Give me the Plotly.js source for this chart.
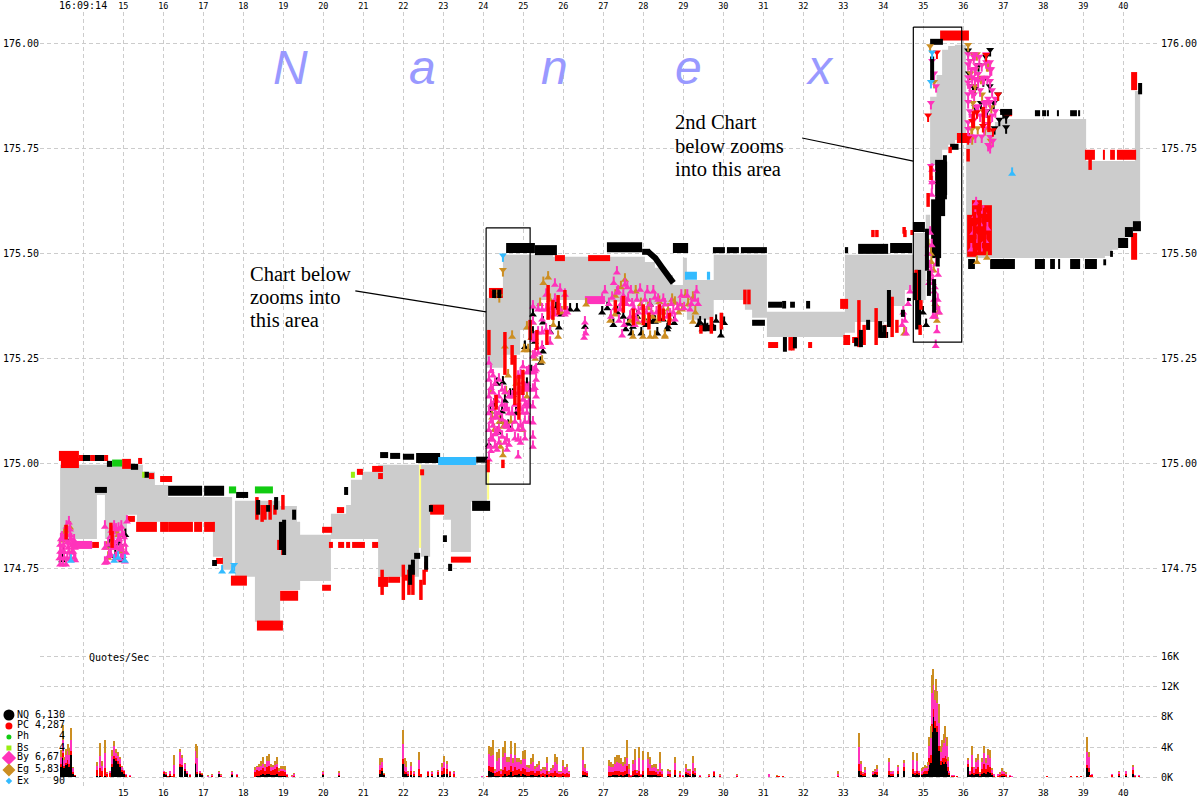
<!DOCTYPE html>
<html><head><meta charset="utf-8">
<script src="https://cdn.plot.ly/plotly-3.0.1.min.js"></script>
<style>html,body{margin:0;padding:0;background:#fff}#c{width:1200px;height:800px}</style>
</head><body><div id="c"></div>
<script>
// ---- inside-quote spread (seconds after 16:09, price)
const spreadT=[13.42,14.34,14.54,15.09,15.34,15.49,15.79,16.12,17.24,17.47,17.72,17.79,18.29,18.92,19.34,19.42,20.19,20.57,20.69,20.97,21.37,22.39,22.44,22.67,23.02,23.19,23.69,24.09,24.49,24.92,25.17,25.42,25.74,26.92,28.04,28.29,28.54,28.74,28.99,29.09,29.76,30.54,30.72,31.09,33.04,33.29,34.17,34.54,34.74,35.06,35.17,35.33,35.47,35.62,35.79,36.07,36.54,36.79,36.92,39.07,39.42,39.54,39.72,39.87,40.04,40.17,40.29,40.42];
const spreadAsk=[174.998,174.998,174.998,174.998,174.998,174.981,174.95,174.921,174.921,174.921,174.9,174.912,174.912,174.9,174.862,174.831,174.881,174.902,174.962,174.981,174.998,174.9,174.998,174.998,174.998,174.998,174.998,175.395,175.498,175.498,175.498,175.498,175.493,175.493,175.481,175.467,175.45,175.426,175.491,175.438,175.498,175.498,175.498,175.362,175.498,175.498,175.498,175.498,175.55,175.593,175.874,175.926,175.986,175.995,175.998,175.783,175.795,175.814,175.821,175.721,175.721,175.721,175.721,175.721,175.721,175.721,175.888,175.888];
const spreadBid=[174.821,174.926,174.821,174.879,174.862,174.862,174.862,174.862,174.779,174.748,174.9,174.731,174.624,174.7,174.7,174.721,174.821,174.821,174.821,174.821,174.731,174.9,174.779,174.898,174.867,174.79,174.91,175.229,175.26,175.319,175.367,175.39,175.39,175.386,175.379,175.379,175.379,175.379,175.379,175.343,175.39,175.367,175.348,175.302,175.312,175.338,175.376,175.414,175.39,175.545,175.712,175.724,175.748,175.76,175.771,175.49,175.49,175.49,175.49,175.49,175.49,175.495,175.51,175.526,175.54,175.557,175.569,175.569];

// ---- NQ (black) runs of quotes
const nqBlockT=[16.12,16.97,null,17.02,17.52,null,22.32,22.92,null,23.72,24.17,null,24.57,25.29,null,25.29,25.84,null,27.09,27.97,null,28.74,29.12,null,33.37,34.12,null,34.17,34.72,null,34.74,35.04,null,36.12,36.29,null,36.67,37.29,null,37.79,38.04,null,38.17,38.29,null,38.37,38.42,null,38.67,38.92,null,39.04,39.34,null,39.87,40.12,null,40.04,40.24,null,40.24,40.44,null,35.42,35.42,null,35.32,35.32,null,35.47,35.47];
const nqBlockP=[174.936,174.936,null,174.936,174.936,null,175.014,175.014,null,174.9,174.9,null,175.514,175.514,null,175.509,175.509,null,175.516,175.516,null,175.514,175.514,null,175.512,175.512,null,175.514,175.514,null,175.564,175.564,null,175.476,175.476,null,175.476,175.476,null,175.476,175.476,null,175.476,175.476,null,175.476,175.476,null,175.476,175.476,null,175.476,175.476,null,175.526,175.526,null,175.552,175.552,null,175.566,175.566,null,175.724,175.59,null,175.63,175.49,null,175.72,175.64];
const nqRunT=[13.99,14.17,null,14.29,14.52,null,14.59,14.72,null,14.29,14.59,null,15.19,15.37,null,15.52,15.64,null,17.82,18.12,null,17.22,17.34,null,21.42,21.62,null,21.67,21.92,null,21.99,22.27,null,23.82,24.12,null,28.12,28.3,28.45,28.6,28.75,null,27.97,28.17,null,29.74,30.04,null,30.09,30.39,null,30.44,31.09,null,33.04,33.12,null,31.12,31.47,null,30.72,31.04,null,37.79,37.92,null,37.97,38.07,null,38.09,38.14,null,38.34,38.39,null,38.67,38.84,null,38.87,38.92,null,36.92,37.22,null,29.42,29.82,null,33.92,34.12,null,35.17,35.49,null,35.67,35.88,null,39.5,39.57,null,39.67,39.74,null,22.27,22.42,null,34.87,34.87,null,31.67,31.79,null,33.42,33.5];
const nqRunP=[175.014,175.014,null,175.014,175.014,null,175,175,null,174.938,174.938,null,174.993,174.993,null,174.974,174.974,null,174.926,174.926,null,174.764,174.764,null,175.021,175.021,null,175.019,175.019,null,175.017,175.017,null,175.01,175.01,null,175.505,175.49,175.47,175.45,175.431,null,175.505,175.505,null,175.509,175.509,null,175.509,175.509,null,175.509,175.509,null,175.509,175.509,null,175.379,175.379,null,175.336,175.336,null,175.835,175.835,null,175.835,175.835,null,175.835,175.835,null,175.835,175.835,null,175.835,175.835,null,175.835,175.835,null,175.838,175.838,null,175.324,175.324,null,175.307,175.307,null,176.005,176.005,null,175.755,175.755,null,175.48,175.48,null,175.5,175.5,null,174.781,174.781,null,175.462,175.32,null,175.379,175.379,null,175.295,175.295];
const nqStemT=[18.94,18.94,null,19.02,19.02,null,18.37,18.37,null,18.62,18.62,null,18.82,18.82,null,19.27,19.27,null,22.17,22.17,null,22.24,22.24,null,22.57,22.57,null,20.57,20.57,null,23.04,23.04,null,23.17,23.17,null,22.69,22.69,null,35.27,35.27,null,35.09,35.09,null,35.54,35.54,null,35.14,35.14,null,33.44,33.44,null,33.62,33.62,null,34.14,34.14,null,34.49,34.49,null,34.79,34.79,null,34.64,34.64,null,35.22,35.22,null,35.36,35.36,null,24.27,24.27,null,24.4,24.4,null,31.54,31.54,null,31.79,31.79,null,31.52,31.52,null,32.12,32.12,null,40.42,40.42,null,33.32,33.32,null,33.92,33.92,null,34.02,34.02];
const nqStemP=[174.862,174.795,null,174.867,174.783,null,174.914,174.879,null,174.902,174.886,null,174.921,174.891,null,174.891,174.867,null,174.76,174.712,null,174.772,174.736,null,174.781,174.748,null,174.945,174.926,null,174.83,174.814,null,174.762,174.745,null,174.902,174.886,null,175.44,175.36,null,175.56,175.46,null,175.735,175.63,null,175.46,175.4,null,175.319,175.278,null,175.343,175.319,null,175.414,175.326,null,175.367,175.35,null,175.455,175.39,null,175.395,175.388,null,175.97,175.91,null,175.53,175.47,null,175.415,175.395,null,175.415,175.395,null,175.302,175.267,null,175.302,175.275,null,175.388,175.37,null,175.388,175.37,null,175.907,175.88,null,175.3,175.28,null,175.34,175.3,null,175.33,175.3];

// ---- PC (red) runs of quotes
const pcBlockT=[13.39,13.89,null,13.44,13.89,null,14.97,15.19,null,15.32,15.84,null,15.92,16.12,null,16.12,16.74,null,16.77,16.97,null,17.02,17.29,null,17.69,18.09,null,18.34,18.99,null,18.92,19.37,null,21.37,21.62,null,22.67,23.02,null,32.92,33.12,null,33,33.17,null,35.42,36.14,null,35.84,36.17,null,39.04,39.29,null,39.49,39.54,null,39.67,39.79,null,39.84,40.32,null,24.14,24.49,null,36.22,36.22,null,36.34,36.34,null,36.47,36.47,null,36.59,36.59];
const pcBlockP=[175.019,175.019,null,175.002,175.002,null,175,175,null,174.85,174.85,null,174.85,174.85,null,174.85,174.85,null,174.85,174.85,null,174.85,174.85,null,174.722,174.722,null,174.615,174.615,null,174.686,174.686,null,174.719,174.719,null,174.891,174.891,null,175.381,175.381,null,175.295,175.295,null,176.02,176.02,null,175.776,175.776,null,175.736,175.736,null,175.736,175.736,null,175.736,175.736,null,175.736,175.736,null,175.407,175.407,null,175.593,175.493,null,175.628,175.497,null,175.609,175.497,null,175.616,175.497];
const pcRunT=[13.89,14.02,null,14.17,14.29,null,14.52,14.62,null,15.37,15.47,null,15.64,15.77,null,15.92,16.22,null,15.09,15.29,null,14.22,14.39,null,17.32,17.49,null,19.97,20.22,null,19.97,20.19,null,20.34,20.52,null,20.57,20.67,null,20.72,21.04,null,21.22,21.37,null,20.14,20.24,null,20.37,20.52,null,20.84,20.99,null,21.22,21.49,null,21.37,21.49,null,23.19,23.69,null,21.62,21.92,null,21.97,22.22,null,25.79,26.04,null,26.62,27.17,null,31.12,31.37,null,36.99,37.22,null,22.42,22.52,null,40.27,40.27,null,40.27,40.27,null,33.22,33.37,null,32.12,32.22];
const pcRunP=[175.014,175.014,null,175.014,175.014,null,175.014,175.014,null,175.007,175.007,null,174.971,174.971,null,174.964,174.964,null,174.869,174.869,null,174.807,174.807,null,174.769,174.769,null,174.843,174.843,null,174.705,174.705,null,174.89,174.89,null,174.807,174.807,null,174.807,174.807,null,174.807,174.807,null,174.807,174.807,null,174.807,174.807,null,174.981,174.981,null,174.988,174.988,null,174.971,174.971,null,174.772,174.772,null,174.724,174.724,null,174.729,174.729,null,175.49,175.49,null,175.49,175.49,null,175.283,175.283,null,175.835,175.835,null,174.98,174.98,null,175.933,175.89,null,175.55,175.486,null,175.295,175.295,null,175.283,175.283];
const pcStemT=[18.34,18.34,null,18.47,18.47,null,18.54,18.54,null,18.67,18.67,null,18.79,18.79,null,18.99,18.99,null,18.89,18.89,null,18.99,18.99,null,22,22,null,22.14,22.14,null,22.24,22.24,null,22.44,22.44,null,22.52,22.52,null,21.47,21.47,null,22.57,22.57,null,24.14,24.14,null,24.54,24.54,null,24.72,24.72,null,24.79,24.79,null,24.89,24.89,null,24.99,24.99,null,24.32,24.32,null,24.49,24.49,null,25.34,25.34,null,25.17,25.17,null,25.62,25.62,null,25.74,25.74,null,25.87,25.87,null,26.04,26.04,null,25.59,25.59,null,24.12,24.12,null,36.28,36.28,null,36.4,36.4,null,36.53,36.53,null,33.39,33.39,null,33.52,33.52,null,33.82,33.82,null,34.22,34.22,null,34.04,34.04,null,34.34,34.34,null,34.82,34.82,null,34.94,34.94,null,34.92,34.92,null,34.52,34.52,null,34.72,34.72,null,35.12,35.12,null,35.19,35.19,null,35.67,35.67,null,39.17,39.17,null,36.12,36.12,null,13.57,13.57,null,14.69,14.69,null,14.72,14.72,null,27.3,27.3,null,27.5,27.5,null,27.75,27.75,null,28,28,null,28.14,28.14,null,28.4,28.4,null,28.5,28.5,null,28.65,28.65,null,29.44,29.44,null,29.7,29.7,null,29.95,29.95,null,36.5,36.5,null,36.25,36.25,null,36.64,36.64,null,31.67,31.67,null,31.74,31.74,null,30.54,30.54,null,30.64,30.64,null,33.74,33.74,null,33.84,33.84,null,34.54,34.54];
const pcStemP=[174.921,174.867,null,174.902,174.862,null,174.902,174.867,null,174.914,174.867,null,174.902,174.879,null,174.926,174.891,null,174.819,174.795,null,174.819,174.783,null,174.76,174.676,null,174.748,174.688,null,174.748,174.688,null,174.724,174.676,null,174.748,174.712,null,174.748,174.688,null,174.767,174.743,null,175.319,175.259,null,175.314,175.212,null,175.283,175.236,null,175.259,175.14,null,175.212,175.105,null,175.224,175.164,null,175.164,175.129,null,175.01,174.99,null,175.319,175.271,null,175.343,175.295,null,175.426,175.343,null,175.39,175.343,null,175.402,175.355,null,175.414,175.367,null,175.319,175.283,null,175.01,174.98,null,175.6,175.5,null,175.62,175.5,null,175.61,175.5,null,175.39,175.278,null,175.331,175.283,null,175.371,175.283,null,175.398,175.302,null,175.331,175.3,null,175.343,175.312,null,175.462,175.39,null,175.39,175.367,null,175.331,175.307,null,175.564,175.548,null,175.557,175.545,null,175.645,175.612,null,175.71,175.676,null,175.755,175.74,null,175.74,175.7,null,175.75,175.72,null,174.855,174.82,null,174.86,174.83,null,174.84,174.8,null,175.39,175.36,null,175.4,175.36,null,175.37,175.33,null,175.38,175.33,null,175.36,175.32,null,175.38,175.34,null,175.37,175.34,null,175.36,175.33,null,175.33,175.31,null,175.35,175.31,null,175.36,175.32,null,175.85,175.8,null,175.84,175.8,null,175.83,175.79,null,175.302,175.27,null,175.302,175.27,null,175.415,175.38,null,175.415,175.38,null,175.557,175.54,null,175.557,175.54,null,175.557,175.54];

// ---- other exchanges, runs
const byRunT=[13.74,14.22,null,26.54,27.04];
const byRunP=[174.807,174.807,null,175.39,175.39];
const phRunT=[14.72,14.97,null,17.64,17.82,null,18.29,18.74];
const phRunP=[175.002,175.002,null,174.938,174.938,null,174.938,174.938];
const exRunT=[22.87,23.82,null,29.04,29.34,null,29.59,29.67];
const exRunP=[175.007,175.007,null,175.448,175.448,null,175.448,175.448];
const bsRunT=[15.47,15.53,null,20.69,20.79];
const bsRunP=[174.974,174.974,null,174.974,174.974];
const yellowT=[22.42,22.42,null,24.12,24.12];
const yellowP=[174.998,174.8,null,174.998,174.915];

// ---- single quotes: By (pink)
const byUpT=[13.42,13.49,13.57,13.67,13.77,13.42,13.52,13.62,13.72,13.47,13.57,13.67,13.77,13.42,13.59,13.67,13.52,13.72,14.54,14.54,14.54,14.62,14.67,14.74,14.82,14.87,14.97,15.04,15.07,15.04,14.92,14.79,14.69,14.84,14.94,15.09,
13.44,13.47,13.5,13.54,13.6,13.64,13.66,13.7,13.75,13.8,13.79,13.4,13.44,13.58,13.64,14.6,14.64,14.72,14.76,14.8,14.85,14.9,14.95,15,15.02,14.7,14.77,14.88,14.95,
24.14,24.14,24.14,24.14,24.14,24.14,24.14,24.24,24.24,24.24,24.24,24.24,24.34,24.34,24.34,24.34,24.47,24.47,24.47,24.47,24.59,24.59,24.59,24.59,24.72,24.72,24.72,24.87,24.87,24.87,24.87,24.87,24.87,24.99,24.99,24.99,24.99,24.99,25.09,25.09,25.09,25.09,25.24,25.24,25.24,25.24,25.24,25.24,25.24,25.24,25.24,25.24,25.32,25.32,25.32,25.37,25.37,25.37,25.47,25.47,25.47,25.47,25.57,25.57,25.57,25.67,25.67,25.67,25.79,25.79,25.79,25.92,25.92,26.04,26.04,26.54,
24.19,24.19,24.19,24.19,24.19,24.19,24.29,24.29,24.29,24.29,24.29,24.39,24.39,24.39,24.39,24.39,24.54,24.54,24.54,24.54,24.64,24.64,24.64,24.64,24.79,24.79,24.79,24.93,24.93,24.93,24.93,24.93,25.04,25.04,25.04,25.04,25.14,25.14,25.14,25.14,25.29,25.29,25.29,25.29,
27.22,27.34,27.34,27.47,27.42,27.54,27.62,27.72,27.82,27.92,28.04,28.17,28.29,28.42,28.54,28.67,28.79,28.92,29.17,29.29,
27.14,27.19,27.26,27.29,27.37,27.39,27.44,27.5,27.52,27.58,27.6,27.67,27.69,27.76,27.79,27.84,27.88,27.96,28,28.08,28.1,28.2,28.25,28.33,28.37,28.46,28.5,28.6,28.7,28.75,28.85,28.95,29.02,29.1,29.2,29.33,29.37,25.7,26.1,26.56,26.52,27.04,26.97,
35.32,35.37,35.29,35.27,35.24,35.34,35.19,35.17,34.54,34.57,35.31,35.12,35.15,35.2,35.24,35.27,35.21,35.17,35.14,35.3,35.33,35.36,35.4,34.47,34.5,34.62,34.67,35.22,35.22,35.21,
36.25,36.3,36.36,36.42,36.5,36.55,36.2,36.44,36.6,36.32];
const byUpP=[174.76,174.76,174.76,174.772,174.776,174.79,174.79,174.8,174.805,174.824,174.833,174.83,174.817,174.807,174.812,174.843,174.776,174.788,174.764,174.8,174.85,174.807,174.826,174.836,174.843,174.819,174.831,174.807,174.788,174.767,174.795,174.8,174.783,174.776,174.772,174.862,
174.775,174.79,174.805,174.82,174.775,174.79,174.81,174.82,174.79,174.77,174.8,174.775,174.82,174.85,174.86,174.765,174.78,174.8,174.815,174.775,174.8,174.82,174.8,174.78,174.825,174.84,174.85,174.845,174.85,
175.24,175.2,175.16,175.12,175.08,175.04,175.01,175.21,175.17,175.13,175.09,175.057,175.15,175.11,175.074,175.033,175.176,175.14,175.105,175.064,175.129,175.088,175.057,175.033,175.16,175.12,175.081,175.207,175.169,175.129,175.081,175.057,175.017,175.231,175.193,175.152,175.121,175.081,175.217,175.176,175.136,175.121,175.374,175.336,175.295,175.255,175.217,175.176,175.136,175.098,175.064,175.04,175.224,175.2,175.16,175.367,175.312,175.264,175.367,175.343,175.312,175.278,175.402,175.367,175.319,175.35,175.312,175.288,175.426,175.39,175.355,175.414,175.367,175.402,175.355,175.336,
175.22,175.18,175.14,175.1,175.06,175.03,175.19,175.15,175.11,175.07,175.04,175.2,175.16,175.12,175.08,175.05,175.17,175.13,175.09,175.05,175.16,175.12,175.08,175.045,175.14,175.1,175.06,175.21,175.17,175.13,175.09,175.05,175.18,175.14,175.1,175.06,175.22,175.18,175.14,175.1,175.3,175.26,175.22,175.18,
175.395,175.455,175.407,175.305,175.367,175.426,175.39,175.379,175.343,175.414,175.39,175.379,175.395,175.367,175.379,175.355,175.343,175.379,175.367,175.39,
175.38,175.35,175.43,175.37,175.41,175.34,175.38,175.4,175.33,175.38,175.42,175.35,175.41,175.37,175.33,175.39,175.36,175.37,175.34,175.36,175.41,175.36,175.41,175.36,175.39,175.36,175.39,175.35,175.38,175.36,175.37,175.4,175.37,175.4,175.38,175.41,175.38,175.37,175.36,175.31,175.3,175.41,175.39,
175.475,175.45,175.42,175.39,175.35,175.315,175.46,175.44,175.34,175.31,175.28,175.5,175.47,175.45,175.43,175.41,175.52,175.55,175.43,175.35,175.37,175.39,175.36,175.33,175.36,175.38,175.41,175.7,175.67,175.64,
175.55,175.59,175.53,175.57,175.6,175.53,175.51,175.51,175.56,175.62];
const byDownT=[35.22,35.27,35.32,35.19,36.12,36.12,36.12,36.12,36.12,36.12,36.12,36.12,36.22,36.22,36.22,36.29,36.29,36.29,36.37,36.37,36.37,36.49,36.57,36.57,36.57,36.57,36.67,36.67,36.67,36.67,36.67,36.67,35.19,35.22,
36.16,36.16,36.16,36.2,36.26,36.27,36.27,36.32,36.33,36.4,36.42,36.42,36.46,36.52,36.52,36.52,36.6,36.62,36.62,36.7,36.72,36.72,36.74,36.46,36.3,36.18,36.8,36.8,36.62];
const byDownP=[175.96,175.93,175.9,175.86,175.976,175.952,175.921,175.909,175.881,175.862,175.814,175.798,175.921,175.886,175.829,175.976,175.94,175.917,175.929,175.912,175.852,175.917,175.976,175.957,175.862,175.84,175.957,175.94,175.912,175.862,175.779,175.755,175.71,175.67,
175.96,175.9,175.84,175.94,175.97,175.88,175.82,175.95,175.85,175.97,175.89,175.83,175.95,175.92,175.86,175.8,175.92,175.87,175.81,175.94,175.89,175.83,175.77,175.78,175.78,175.78,175.87,175.84,175.76];

// ---- single quotes: Eg (gold)
const egUpT=[13.47,13.54,13.67,14.57,14.62,14.79,14.92,24.22,24.49,24.49,24.72,24.54,25.09,25.09,25.24,25.47,25.62,25.87,26.57,27.29,27.54,27.74,27.87,27.99,28.29,28.54,28.62,28.17,28.54,28.67,28.79,28.97,29.12,29.24,29.24,35.34,35.19,36.34,36.59,36.36,
24.2,24.27,24.4,24.43,24.57,24.62,24.69,24.82,24.97,25.02,25.12,25.2,25.3,25.42,25.5,25.67,25.75,25.96,27.17,27.3,27.44,27.57,27.67,27.81,27.94,28.04,28.12,28.23,28.36,28.4,28.5,28.72,28.88,29.05,29.3,13.52,13.6,13.72,14.7,14.87,14.99,35.2,35.26,35.3,35.13,35.37,34.52];
const egUpP=[174.817,174.838,174.848,174.8,174.776,174.838,174.79,175.11,175.02,175.088,175.302,175.279,175.324,175.16,175.336,175.243,175.443,175.302,175.379,175.355,175.438,175.302,175.336,175.302,175.302,175.302,175.367,175.302,175.305,175.343,175.383,175.367,175.379,175.395,175.338,175.34,175.5,175.48,175.49,175.53,
175.17,175.08,175.1,175.04,175.17,175.21,175.1,175.19,175.08,175.27,175.27,175.3,175.25,175.38,175.43,175.39,175.33,175.36,175.34,175.4,175.42,175.38,175.34,175.41,175.38,175.34,175.37,175.35,175.34,175.385,175.36,175.39,175.36,175.4,175.36,174.83,174.84,174.79,174.81,174.83,174.79,175.48,175.46,175.38,175.52,175.36,175.31];
const egDownT=[24.49,36.12,36.24,36.34,36.29,36.22,36.47,36.54,36.59,35.17,35.27,36.22,36.18,36.24,36.3,36.44,36.5,36.62,36.7,36.68,36.2,36.36,24.3,24.4];
const egDownP=[175.462,175.998,175.976,175.976,175.9,175.798,175.88,175.798,175.95,175.995,175.91,175.776,175.93,175.86,175.94,175.92,175.84,175.95,175.85,175.77,175.8,175.8,175.41,175.4];

// ---- single quotes: NQ, PC, Ex
const nqUpT=[24.14,24.17,24.47,24.37,24.49,24.67,24.74,25.04,25.24,25.24,25.49,25.67,25.49,25.89,25.82,25.94,26.17,26.34,26.54,27.62,27.74,28.17,28.17,28.29,28.62,28.49,29.42,29.54,29.72,29.94,34.99,35.07,
24.27,24.34,24.44,24.54,24.62,24.82,24.92,25.09,25.14,25.2,25.29,25.43,13.5,13.57,13.47,14.67,14.8,14.9,14.97,15.05,26.97,27.1,27.25,27.35,27.5,27.56,27.7,27.85,27.95,28.07,28.25,28.35,28.6,28.77,29.38,29.48,29.6,29.82,30.02];
const nqUpP=[175.045,175.124,175.124,175.074,175.193,175.164,175.164,175.278,175.355,175.312,175.336,175.314,175.267,175.324,175.371,175.355,175.367,175.367,175.326,175.333,175.326,175.379,175.338,175.338,175.326,175.343,175.336,175.33,175.33,175.305,175.36,175.33,
175.14,175.19,175.1,175.15,175.09,175.12,175.17,175.19,175.14,175.22,175.29,175.24,174.79,174.82,174.77,174.805,174.78,174.81,174.77,174.83,175.36,175.37,175.33,175.36,175.35,175.32,175.31,175.35,175.31,175.33,175.34,175.31,175.32,175.335,175.33,175.32,175.32,175.34,175.335];
const nqDownT=[36.12,36.5,36.59,36.67,36.29,36.87,37,37.07,37.07,36.14,36.24,36.38,36.3,36.44,36.56,36.66,36.76,36.78,36.9];
const nqDownP=[175.985,175.914,175.84,175.986,175.893,175.88,175.838,175.826,175.802,175.93,175.9,175.95,175.85,175.86,175.97,175.9,175.86,175.8,175.82];
const pcDownT=[36.57,36.87,36.34,36.49,36.74,36.12,36.22,35.34,35.12];
const pcDownP=[175.974,175.88,175.838,175.805,175.795,175.776,175.817,175.98,175.83];
const exUpT=[13.69,14.77,14.87,15.04,17.47,17.72,37.22];
const exUpP=[174.769,174.769,174.776,174.769,174.743,174.743,175.69];
const exDownT=[17.77,24.49,35.19,35.22];
const exDownP=[174.76,175.497,175.91,175.98];

// ---- quotes per second (thousands)
const volT=[13.44,13.48,13.52,13.57,13.61,13.65,13.69,13.74,13.8,14.05,14.34,14.42,14.47,14.54,14.59,14.67,14.72,14.77,14.82,14.87,14.92,14.97,15.02,15.07,15.17,15.3,15.45,15.6,15.7,16.02,16.07,16.12,16.17,16.22,16.27,16.42,16.47,16.54,16.59,16.67,16.82,16.85,16.92,16.97,17.12,17.22,17.38,17.43,17.72,17.84,17.95,18.29,18.34,18.39,18.44,18.49,18.54,18.59,18.64,18.69,18.74,18.79,18.84,18.89,18.94,18.99,19.04,19.09,19.22,19.27,19.99,20.39,21.42,21.47,21.52,21.99,22.03,22.07,22.11,22.2,22.27,22.39,22.45,22.62,22.72,22.87,22.97,23.02,23.09,23.17,23.27,23.97,24.1,
24.14,24.19,24.24,24.29,24.34,24.39,24.44,24.49,24.54,24.59,24.64,24.69,24.74,24.79,24.84,24.89,24.94,24.99,25.04,25.09,25.14,25.19,25.24,25.29,25.34,25.39,25.44,25.49,25.54,25.59,25.64,25.69,25.74,25.79,25.84,25.89,25.94,25.99,26.04,26.09,26.14,26.2,26.49,26.54,26.59,
27.13,27.18,27.23,27.28,27.33,27.38,27.43,27.48,27.53,27.58,27.63,27.68,27.73,27.78,27.83,27.88,27.93,27.98,28.12,28.17,28.22,28.27,28.32,28.37,28.42,28.47,28.55,28.62,28.67,28.79,28.92,29,29.07,29.12,29.17,29.25,29.29,29.42,29.63,29.77,29.92,30.35,31.13,31.33,31.4,31.5,32.87,33.4,33.44,33.5,33.54,33.75,33.8,33.85,34.15,34.2,34.25,34.37,34.52,34.75,34.79,34.85,34.9,
34.96,35,35.04,35.08,35.12,35.15,35.19,35.22,35.25,35.28,35.32,35.35,35.38,35.4,35.43,35.47,35.51,35.54,35.58,35.61,35.65,35.71,35.76,35.83,36.11,36.17,36.22,36.27,36.32,36.37,36.42,36.47,36.52,36.57,36.62,36.67,36.72,36.77,36.87,36.92,36.97,37.02,37.07,37.17,37.21,38,38.1,38.35,38.7,38.85,38.95,39.1,39.13,39.17,39.21,39.5,39.72,39.9,40.07,40.25,40.29,40.4];
const volNQ=[1.4,2.6,1.2,1.6,1.8,1.4,3,.4,.2,0,.2,.2,.1,.2,.1,.1,1.4,2.4,2.1,1.8,1.4,.7,.5,.1,0,0,0,0,0,.5,.3,.1,.2,.1,.1,1.4,1.3,.9,.4,.1,1.8,.5,.4,.3,0,.1,.4,.1,.3,.1,0,.1,.2,.2,.3,.4,.3,.4,.5,.3,.3,.3,.4,.2,.2,.2,.2,.1,0,.1,.3,.2,.4,.8,.3,1.8,.5,.4,.2,.3,.2,.2,.1,.2,.2,.3,.3,.4,.4,.2,.1,0,0,
.8,.7,.6,.2,.2,.2,.1,.2,.4,.2,.3,.7,.2,.3,.3,.4,.2,.4,.3,.2,.2,.3,.3,.2,.2,.3,.1,.2,.1,.3,.1,.2,.1,.2,.1,.1,.1,.2,.1,.1,.1,0,.3,.3,.2,
.2,.2,.3,.3,.3,.2,.3,.2,.3,.5,.1,.1,.2,.3,.3,.2,.1,.3,.3,.3,.3,.3,.3,.2,.2,.1,0,.2,.1,.3,.1,.1,.4,.3,.2,.4,.3,0,0,.2,.1,.1,0,.1,0,0,.1,.9,.3,.2,.2,.3,.4,.3,.3,.2,.2,.5,.9,.5,.3,.4,.3,
.3,.4,.5,.5,.8,1.6,1.9,6,8,6.5,7.6,6,4.6,3.5,1.6,2,1.8,2,1.8,.9,.3,.1,.1,.1,1.3,.3,.5,.3,.4,.5,.2,.4,.6,.4,.7,.6,.3,.1,.1,.1,.2,.2,.1,.1,0,0,.1,0,.1,.1,.1,1.2,.7,.1,.1,.1,.1,.2,.2,.4,.1,.1];
const volPC=[.3,.6,.3,.3,.5,.4,.5,.3,.1,.1,.8,1,.8,1,.3,.5,.3,.4,.4,.3,.4,.3,.3,.2,.2,.1,.1,.1,.1,.2,.2,.1,.3,.1,.3,.3,.3,.2,.2,.2,.1,.2,.2,.1,.1,.1,.1,.1,.2,.2,.1,.6,.8,.7,.7,.8,.6,1,1,.6,.7,.8,.9,.5,.6,.6,.5,.2,.1,.1,.1,.1,.6,.4,.1,.6,.4,.3,.2,.6,.3,.9,.3,.5,.3,.4,.6,.8,.7,.5,.4,.1,.2,
.7,.6,.7,.4,.5,.7,.4,.8,1,.7,.7,.8,.6,1,.7,.7,.7,.8,.8,.5,.5,.6,.6,.4,.6,.6,.4,.4,.4,.6,.3,.4,.5,.7,.5,.3,.3,.4,.4,.5,.3,.1,.5,.4,.4,
.5,.5,.4,.5,.6,.6,.4,.5,.6,1,.4,.1,.6,.7,.3,.6,.2,.5,.9,.5,.5,.5,.4,.3,.5,.3,.1,.3,.3,.7,.2,.1,.3,.3,.3,.5,.3,.2,.2,.5,.1,.1,.1,.1,.2,.2,.1,.9,.6,.2,.4,.2,.3,.4,.6,.2,.3,.4,.4,.6,.3,.5,.3,
.2,.3,.3,.3,.3,.9,1,1,1,.9,.8,.8,.6,.7,.5,.6,.7,.8,.6,.5,.3,.1,.1,.1,.5,.2,.9,.3,.7,.8,.2,.7,1.1,.7,.9,.8,.3,.1,.1,.2,.3,.2,.2,.1,.1,.1,.1,.1,.1,.1,.1,.4,.5,.2,.2,0,.2,.3,.3,.6,.1,.1];
const volBy=[1,1.7,.8,1,1.2,1.2,1.5,.5,0,0,.5,1.6,.6,2,.2,.2,1.1,1.4,.7,.7,.6,.3,.2,.1,.1,0,0,0,0,.1,.1,0,.3,0,1.2,1.6,1,.6,.2,.1,1.6,1.9,.2,.1,.1,.1,.2,.1,.2,.1,0,.3,.3,.4,.5,.6,.4,.7,.7,.4,.3,.5,.5,.2,.3,.3,.3,.1,.1,.2,.3,.3,.6,.8,.1,2,.8,.6,.3,.6,.2,1.2,.1,.2,.2,.2,.5,.8,.6,.2,.2,.1,0,
1.6,1.5,1.7,.3,1.4,1.6,.4,1.7,1.8,1.1,1,1.6,1.1,1.6,1,.9,.9,1.2,1.3,.6,.5,.9,1.1,.5,.6,.7,.4,.5,.5,1,.3,.4,.6,1.1,1.1,.3,.3,.9,.6,.7,.3,0,1.5,.5,.3,
.8,.7,.6,1,1.1,1.1,1,.8,.9,1,.6,.1,.9,1.3,.2,1.7,.1,1.5,1.2,1,.4,.5,.5,.3,1.2,.4,0,.3,.3,.9,.3,.1,.5,.3,.3,1,.3,.1,.1,.2,.1,.1,.3,0,0,0,.3,2.2,.8,.2,.4,.2,.2,.4,1.1,.3,.3,.4,.6,1.2,.2,1.2,.2,
.4,.4,.4,.4,.5,1.6,2.3,4.2,3.2,2.8,3.2,3,2.2,3,1.3,1.4,2,2.4,1.8,.8,.2,.1,.1,0,.5,.3,1.6,.6,.9,1,.2,.9,1.5,.8,1.3,1.2,.4,.2,.2,.2,.3,.3,.2,.1,.1,0,0,0,0,0,0,1.7,1.5,0,.1,0,.1,.2,.3,.3,.1,.1];
const volEg=[.9,2,.4,.9,.9,.9,1.5,.2,0,0,.5,1.8,.7,1.8,.1,.1,.8,.6,.5,.5,.3,.2,0,0,0,0,0,0,0,.1,.1,0,.1,0,1.3,.4,.3,.2,.1,0,.9,1.6,.1,.1,.1,.1,.2,.1,.2,0,0,.3,.2,.5,.6,.9,.4,.7,.9,.4,.3,.6,.9,.3,.4,.4,.5,.1,.1,.2,.2,.3,.9,.5,.1,1.8,.9,.9,.1,.5,.1,1,0,0,.2,.1,.5,.8,.5,0,.1,0,0,
1.1,1.2,1.9,.2,1.3,1.2,.2,1.3,1.6,.7,.7,1.7,.6,1.7,.6,.6,.5,1.1,1.2,.3,.4,.7,1.1,.4,.4,.6,.2,.3,.3,.8,.2,.2,.4,1.1,1,.1,.1,.8,.3,.4,.1,0,1.7,.5,0,
.75,.6,.5,.9,1,1,.8,.5,.9,2.4,.7,0,.6,1.4,.2,1.5,.1,1.2,1,.9,.4,.5,.6,.3,1.5,.3,0,.3,.3,.8,.3,0,.5,.2,.3,.9,.3,0,.1,0,.1,.1,0,.1,0,0,.3,1.9,.4,.1,.3,.2,.2,.5,.5,.2,.1,.3,.4,1.1,.1,1.1,.1,
.3,.3,.4,.3,.4,1.2,1.6,2.4,2.2,1.4,1.4,1.6,1.2,2.5,.8,.9,1.2,1.6,1.1,.5,.1,0,0,0,.2,.1,1.1,.2,.6,.8,.1,.6,1,.6,.9,1,.2,.1,.1,.2,.4,.2,.2,0,0,0,0,0,0,0,0,2,.6,0,0,0,.1,.1,.1,.3,0,0];

// ---- labels
const priceTicks=[174.75,175,175.25,175.5,175.75,176];
const volTicks=[0,4,8,12,16];
const volLabels=['0K','4K','8K','12K','16K'];
const secondTicks=[14,15,16,17,18,19,20,21,22,23,24,25,26,27,28,29,30,31,32,33,34,35,36,37,38,39,40];
const legendLabels=['NQ 6,130','PC 4,287','Ph\u00a0\u00a0\u00a0\u00a0\u00a04','Bs\u00a0\u00a0\u00a0\u00a0\u00a04','By 6,67','Eg 5,83','Ex\u00a0\u00a0\u00a0\u00a090'];
const legendColors=['#000000','#ff0000','#11cc11','#99ee11','#ff33bb','#cc8e22','#33bbff'];
const legendSymbols=['circle','circle','circle','square','diamond','diamond','diamond'];
const legendSizes=[11,7,5,5,11,10,5];
const legendLevels=[8.25,6.8,5.34,3.88,2.56,.97,-.49];
const legendMarkT=[12.14,12.14,12.14,12.14,12.14,12.14,12.14];
const legendTextT=[12.34,12.34,12.34,12.34,12.34,12.34,12.34];
const nanexLetters=['N','a','n','e','x'];
const nanexT=[19.17,22.47,25.79,29.12,32.42];
const note1Lines=['Chart below','zooms into','this area'];
const note1P=[175.452,175.398,175.343];
const note2Lines=['2nd Chart','below zooms','into this area'];
const note2P=[175.814,175.757,175.702];
// boxes and callout lines
const calloutT=[24.07,25.17,25.17,24.07,24.07,null,34.75,35.96,35.96,34.75,34.75,null,20.8,24.07,null,31.97,34.75];
const calloutP=[175.562,175.562,174.952,174.952,175.562,null,176.04,176.04,175.29,175.29,176.04,null,175.412,175.362,null,175.776,175.721];

const BLACK='#000000',RED='#ff0000',PINK='#ff33bb',GOLD='#cc8e22',BLUE='#33bbff',GREEN='#11cc11',LIME='#99ee11';
function run(x,y,c,w){return {type:'scatter',mode:'lines',x,y,connectgaps:false,line:{color:c,width:w},hoverinfo:'skip',showlegend:false};}
function pts(x,y,c,sym){
  const up=sym==='triangle-up';
  return {type:'scatter',mode:'markers',x,y,marker:{color:c,symbol:sym,size:7,line:{width:0}},
    error_y:{type:'constant',symmetric:false,value:up?.016:0,valueminus:up?0:.016,thickness:2,width:0,color:c},
    hoverinfo:'skip',showlegend:false};
}
function bar(y,c){return {type:'bar',x:volT,y,xaxis:'x',yaxis:'y3',width:.05,marker:{color:c,line:{width:0}},hoverinfo:'skip',showlegend:false};}

const traces=[
 {type:'scatter',mode:'lines',x:spreadT,y:spreadBid,line:{width:0,shape:'hv'},hoverinfo:'skip',showlegend:false},
 {type:'scatter',mode:'lines',x:spreadT,y:spreadAsk,fill:'tonexty',fillcolor:'#cccccc',line:{width:0,shape:'hv'},hoverinfo:'skip',showlegend:false},
 run(yellowT,yellowP,'#ffff88',2),
 run(pcBlockT,pcBlockP,RED,10),
 run(pcRunT,pcRunP,RED,6),
 run(nqBlockT,nqBlockP,BLACK,10),
 run(nqRunT,nqRunP,BLACK,6),
 run(phRunT,phRunP,GREEN,7),
 run(exRunT,exRunP,BLUE,8),
 run(bsRunT,bsRunP,LIME,6),
 run(byRunT,byRunP,PINK,8),
 pts(nqUpT,nqUpP,BLACK,'triangle-up'),
 pts(nqDownT,nqDownP,BLACK,'triangle-down'),
 pts(egUpT,egUpP,GOLD,'triangle-up'),
 pts(egDownT,egDownP,GOLD,'triangle-down'),
 pts(byUpT,byUpP,PINK,'triangle-up'),
 pts(byDownT,byDownP,PINK,'triangle-down'),
 run(pcStemT,pcStemP,RED,3.5),
 run(nqStemT,nqStemP,BLACK,4),
 pts(pcDownT,pcDownP,RED,'triangle-down'),
 pts(exUpT,exUpP,BLUE,'triangle-up'),
 pts(exDownT,exDownP,BLUE,'triangle-down'),
 bar(volNQ,BLACK),bar(volPC,RED),bar(volBy,PINK),bar(volEg,GOLD),
 {type:'scatter',mode:'markers',x:legendMarkT,y:legendLevels,xaxis:'x3',yaxis:'y4',cliponaxis:false,marker:{color:legendColors,symbol:legendSymbols,size:legendSizes,opacity:1,line:{width:0}},hoverinfo:'skip',showlegend:false},
 {type:'scatter',mode:'text',x:legendTextT,y:legendLevels,xaxis:'x3',yaxis:'y4',cliponaxis:false,text:legendLabels,textposition:'middle right',textfont:{family:'DejaVu Sans Mono',size:10,color:'#000'},hoverinfo:'skip',showlegend:false},
 {type:'scatter',mode:'lines',x:calloutT,y:calloutP,xaxis:'x2',yaxis:'y2',cliponaxis:false,line:{color:'#000',width:1.2},hoverinfo:'skip',showlegend:false}
];

const mono='DejaVu Sans Mono';
const xRange=[12.917,40.917], pRange=[174.233,176.076], vRange=[-1.152,101.36];
const xDomain=[40/1200,1160/1200];
const annotations=nanexLetters.map((s,i)=>({xref:'x',yref:'y',x:nanexT[i],y:175.945,text:'<i>'+s+'</i>',showarrow:false,xanchor:'center',yanchor:'middle',font:{family:'Liberation Sans',size:48,color:'#9999ff'}}));
note1Lines.forEach((s,i)=>annotations.push({xref:'x',yref:'y',x:18.117,y:note1P[i],text:s,showarrow:false,xanchor:'left',yanchor:'middle',font:{family:'Liberation Serif',size:20.5,color:'#000'}}));
note2Lines.forEach((s,i)=>annotations.push({xref:'x',yref:'y',x:28.74,y:note2P[i],text:s,showarrow:false,xanchor:'left',yanchor:'middle',font:{family:'Liberation Serif',size:20.5,color:'#000'}}));
annotations.push(
 {xref:'x',yref:'y3',x:14.09,y:15.9,text:'Quotes/Sec',showarrow:false,xanchor:'left',yanchor:'middle',font:{family:mono,size:10,color:'#000'}},
 {xref:'x',yref:'paper',x:14,y:1,yshift:7,text:'16:09:14',showarrow:false,xanchor:'center',yanchor:'middle',font:{family:mono,size:10,color:'#000'}}
);

const layout={
 width:1200,height:800,margin:{l:0,r:0,t:12,b:14,pad:0},paper_bgcolor:'#fff',plot_bgcolor:'rgba(0,0,0,0)',showlegend:false,barmode:'stack',bargap:0,
 xaxis:{domain:xDomain,range:xRange,tickmode:'array',tickvals:secondTicks,ticktext:secondTicks.map(s=>s===14?'':String(s)),side:'bottom',showgrid:true,griddash:'4px,3px',gridcolor:'#cccccc',gridwidth:1,zeroline:false,showline:false,ticks:'',ticklen:0,tickangle:0,tickfont:{family:mono,size:9,color:'#000'}},
 xaxis2:{domain:xDomain,range:xRange,overlaying:'x',side:'top',anchor:'y',tickmode:'array',tickvals:secondTicks,ticktext:secondTicks.map(s=>s===14?'':String(s)),showgrid:false,zeroline:false,showline:false,ticks:'',ticklen:0,tickangle:0,tickfont:{family:mono,size:8.5,color:'#000'}},
 xaxis3:{domain:[0,40/1200],range:[11.917,12.917],anchor:'y4',visible:false,showgrid:false,zeroline:false},
 yaxis:{range:pRange,tickmode:'array',tickvals:priceTicks,tickformat:'.2f',side:'left',showgrid:true,griddash:'4px,3px',gridcolor:'#cccccc',gridwidth:1,zeroline:false,showline:false,ticks:'',tickfont:{family:mono,size:10,color:'#000'}},
 yaxis2:{range:pRange,overlaying:'y',side:'right',anchor:'x2',tickmode:'array',tickvals:priceTicks,tickformat:'.2f',showgrid:false,zeroline:false,showline:false,ticks:'',tickfont:{family:mono,size:10,color:'#000'}},
 yaxis3:{range:vRange,overlaying:'y',side:'right',anchor:'x',tickmode:'array',tickvals:volTicks,ticktext:volLabels,showgrid:true,griddash:'4px,3px',gridcolor:'#cccccc',gridwidth:1,zeroline:false,showline:false,ticks:'',tickfont:{family:mono,size:10,color:'#000'}},
 yaxis4:{range:vRange,anchor:'x3',visible:false,showgrid:false,zeroline:false},
 annotations
};
Plotly.newPlot('c',traces,layout,{staticPlot:true,displayModeBar:false});
</script></body></html>
